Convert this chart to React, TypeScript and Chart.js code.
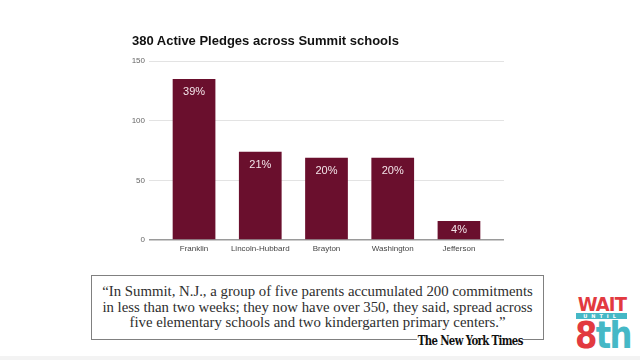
import React, { useEffect, useRef } from "react";
import { Chart, registerables } from "chart.js";

Chart.register(...registerables);

const title = "380 Active Pledges across Summit schools";
const schools = ["Franklin", "Lincoln-Hubbard", "Brayton", "Washington", "Jefferson"];
const pledges = [135, 74, 69, 69, 16];
const shares = ["39%", "21%", "20%", "20%", "4%"];
const yTicks = [0, 50, 100, 150];
const quoteLines = [
  "\u201CIn Summit, N.J., a group of five parents accumulated 200 commitments",
  "in less than two weeks; they now have over 350, they said, spread across",
  "five elementary schools and two kindergarten primary centers.\u201D",
];
const source = "The New York Times";

const BAR = "#6a0f2d";

const barLabels = {
  id: "barLabels",
  afterDatasetsDraw(chart: any) {
    const ctx = chart.ctx;
    const meta = chart.getDatasetMeta(0);
    ctx.save();
    ctx.font = "11px 'Liberation Sans', Arial, sans-serif";
    ctx.fillStyle = "#f3e4e9";
    ctx.textAlign = "center";
    ctx.textBaseline = "middle";
    meta.data.forEach((bar: any, i: number) => {
      const y = Math.min(bar.y + 13.5, (bar.y + bar.base) / 2);
      ctx.fillText(shares[i], bar.x, y);
    });
    ctx.restore();
  },
};

function BarChart() {
  const ref = useRef<HTMLCanvasElement>(null);
  useEffect(() => {
    const chart = new Chart(ref.current!, {
      type: "bar",
      data: {
        datasets: [
          {
            data: pledges.map((v, i) => ({ x: i, y: v })),
            backgroundColor: BAR,
            borderWidth: 0,
            barPercentage: 0.645,
            categoryPercentage: 1,
          },
        ],
      },
      options: {
        animation: false,
        responsive: false,
        devicePixelRatio: 1,
        layout: { padding: { left: 119, right: 136, top: 61, bottom: 0 } },
        plugins: { legend: { display: false }, tooltip: { enabled: false }, title: { display: false } },
        scales: {
          x: {
            type: "linear",
            offset: false,
            min: -0.68,
            max: 4.68,
            afterBuildTicks: (scale: any) => {
              scale.ticks = schools.map((_, i) => ({ value: i }));
            },
            afterFit: (scale: any) => {
              scale.height = 22;
            },
            ticks: {
              autoSkip: false,
              maxRotation: 0,
              padding: 4,
              color: "#444",
              font: { size: 8, family: "'Liberation Sans', Arial, sans-serif" },
              callback: (v: any) => schools[v] ?? "",
            },
            grid: { display: false, drawTicks: false },
            border: { display: false },
          },
          y: {
            min: 0,
            max: 150,
            afterBuildTicks: (scale: any) => {
              scale.ticks = yTicks.map((v) => ({ value: v }));
            },
            afterFit: (scale: any) => {
              scale.width = 30;
            },
            ticks: {
              padding: 4,
              color: "#666",
              font: { size: 8, family: "'Liberation Sans', Arial, sans-serif" },
            },
            grid: {
              drawTicks: false,
              color: (c: any) => (c.tick && c.tick.value === 0 ? "#9a9a9a" : "#e3e3e3"),
              lineWidth: (c: any) => (c.tick && c.tick.value === 0 ? 1.5 : 1),
            },
            border: { display: false },
          },
        },
      },
      plugins: [barLabels],
    } as any);
    return () => chart.destroy();
  }, []);
  return (
    <canvas
      ref={ref}
      width={640}
      height={262}
      style={{ position: "absolute", left: 0, top: 0, width: 640, height: 262 }}
    />
  );
}

export default function App() {
  return (
    <div
      style={{
        position: "fixed",
        left: 0,
        top: 0,
        width: 640,
        height: 360,
        background: "#ffffff",
        overflow: "hidden",
      }}
    >
      <BarChart />
      <div
        style={{
          position: "absolute",
          left: 132,
          top: 34,
          font: "bold 13px 'Liberation Sans', Arial, sans-serif",
          lineHeight: "13px",
          color: "#111",
          whiteSpace: "nowrap",
        }}
      >
        {title}
      </div>
      {/* quote box */}
      <div
        style={{
          position: "absolute",
          left: 91,
          top: 275,
          width: 453,
          height: 65,
          boxSizing: "border-box",
          border: "1.3px solid #808080",
        }}
      />
      <div
        style={{
          position: "absolute",
          left: 91,
          top: 284,
          width: 453,
          textAlign: "center",
          font: "14.8px 'Liberation Serif', 'Times New Roman', serif",
          lineHeight: "15.6px",
          color: "#2e2e2e",
          whiteSpace: "nowrap",
        }}
      >
        {quoteLines.map((l, i) => (
          <div key={i}>{l}</div>
        ))}
      </div>
      <div
        style={{
          position: "absolute",
          left: 417,
          top: 333,
          width: 106,
          height: 16,
          background: "#ffffff",
          display: "flex",
          justifyContent: "center",
          alignItems: "center",
          whiteSpace: "nowrap",
        }}
      >
        <span
          style={{
            display: "inline-block",
            font: "bold 13px 'DejaVu Serif', 'Liberation Serif', serif",
            lineHeight: "16px",
            color: "#111",
            letterSpacing: "-0.8px",
            transform: "scaleX(0.78)",
            flexShrink: 0,
          }}
        >
          {source}
        </span>
      </div>
      {/* bottom band */}
      <div style={{ position: "absolute", left: 0, top: 356, width: 640, height: 4, background: "#f3f3f3" }} />
      {/* WAIT until 8th logo */}
      <div style={{ position: "absolute", left: 575, top: 296, width: 52, height: 54 }}>
        <div
          style={{
            position: "absolute",
            left: 0,
            top: -2,
            width: 52,
            textAlign: "center",
            font: "bold 20px 'DejaVu Sans', sans-serif",
            lineHeight: "20px",
            color: "#e23a40",
            letterSpacing: "-1px",
          }}
        >
          <span style={{ display: "inline-block", transform: "scaleX(0.9)" }}>WAIT</span>
        </div>
        <div
          style={{
            position: "absolute",
            left: 1,
            top: 16.5,
            width: 51,
            height: 6,
            background: "#45b8c6",
            color: "#ffffff",
            font: "bold 5px 'DejaVu Sans', sans-serif",
            lineHeight: "6px",
            textAlign: "center",
            letterSpacing: "4px",
          }}
        >
          UNTIL
        </div>
        <div
          style={{
            position: "absolute",
            left: 0,
            top: 20,
            width: 54,
            font: "bold 38px 'DejaVu Sans', sans-serif",
            lineHeight: "38px",
            letterSpacing: "-2px",
            whiteSpace: "nowrap",
          }}
        >
          <span style={{ display: "inline-block", transform: "scaleX(0.85)", transformOrigin: "left" }}>
            <span style={{ color: "#e23a40" }}>8</span>
            <span style={{ color: "#45b8c6" }}>th</span>
          </span>
        </div>
      </div>
    </div>
  );
}
